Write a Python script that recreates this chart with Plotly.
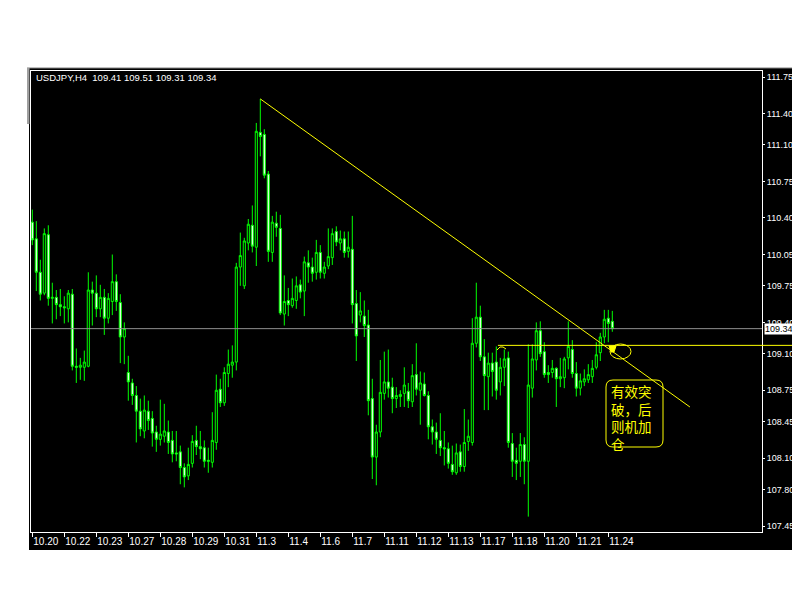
import plotly.graph_objects as go

# ---------------- data (USDJPY H4) ----------------
opens = [110.36,110.20,109.88,109.68,110.24,109.63,109.64,109.57,109.55,109.53,
         109.67,108.98,108.97,108.97,108.98,109.71,109.68,109.53,109.64,109.44,
         109.60,109.79,109.59,109.26,108.92,108.82,108.70,108.55,108.36,108.55,
         108.48,108.35,108.28,108.31,108.35,108.27,108.15,108.16,108.01,107.93,
         108.05,108.27,108.21,108.20,108.08,108.06,108.25,108.76,108.63,108.91,
         108.99,109.02,109.93,109.75,110.16,110.33,110.12,111.22,111.20,110.82,
         110.07,110.35,110.30,109.48,109.61,109.56,109.61,109.76,109.70,109.97,
         109.93,109.88,110.07,109.87,109.94,110.02,110.27,110.16,110.20,110.08,
         110.10,109.58,109.47,109.46,109.375,108.67,108.11,108.35,108.72,108.83,
         108.78,108.67,108.69,108.72,108.74,108.64,108.90,108.75,108.81,108.70,
         108.40,108.35,108.27,108.20,108.19,108.04,107.96,108.16,108.02,108.26,
         108.25,109.20,109.45,109.07,108.88,109.01,109.02,108.83,108.97,109.06,
         108.24,108.08,108.07,108.23,108.07,108.77,109.04,109.32,109.12,108.92,
         108.92,108.96,108.86,108.87,109.06,109.14,108.91,108.77,108.83,108.85,
         108.88,108.97,109.11,109.26,109.44,109.41]
highs = [110.48,110.37,110.00,110.30,110.33,109.78,109.71,109.72,109.65,109.71,
         109.72,109.15,109.06,109.13,109.88,109.79,109.85,109.76,109.72,109.68,
         110.05,109.86,109.67,109.40,109.08,108.86,108.79,108.67,108.70,108.65,
         108.55,108.41,108.66,108.62,108.46,108.36,108.36,108.22,108.05,108.20,
         108.32,108.41,108.36,108.27,108.20,108.54,108.90,108.86,108.97,109.14,
         109.18,109.97,110.26,110.21,110.39,110.52,111.31,111.54,111.25,110.85,
         110.42,110.46,110.43,109.85,109.73,109.82,109.84,109.81,110.03,110.09,
         110.02,110.19,110.14,109.98,110.30,110.30,110.32,110.28,110.27,110.27,
         110.42,109.71,109.69,109.61,109.52,108.86,108.42,109.04,109.12,109.14,
         108.87,108.78,108.75,108.97,108.82,109.00,109.20,108.93,108.92,108.74,
         108.47,108.44,108.53,108.36,108.25,108.22,108.24,108.23,108.57,108.47,
         109.44,109.78,109.56,109.24,109.11,109.11,109.17,109.06,109.14,109.12,
         108.34,108.20,108.34,108.30,109.19,109.19,109.40,109.41,109.21,108.99,
         109.04,108.97,109.06,109.07,109.41,109.23,109.02,108.91,108.95,109.00,
         109.04,109.21,109.30,109.52,109.52,109.51]
lows = [110.14,109.70,109.61,109.66,109.56,109.39,109.43,109.46,109.39,109.40,
        108.94,108.82,108.85,108.84,108.97,109.37,109.45,109.45,109.28,109.39,
        109.47,109.51,109.01,109.00,108.65,108.61,108.25,108.31,108.29,108.37,
        108.21,108.16,108.22,108.25,108.14,108.06,108.07,107.85,107.82,107.89,
        108.01,108.13,108.09,108.01,107.96,108.01,108.18,108.59,108.60,108.78,
        108.87,108.94,109.75,109.72,110.09,110.07,109.94,110.99,110.78,109.98,
        109.98,110.22,109.47,109.37,109.46,109.54,109.53,109.63,109.46,109.78,
        109.79,109.81,109.82,109.82,109.91,109.95,110.13,110.09,110.02,110.02,
        109.39,109.03,109.40,109.26,108.51,107.90,107.84,108.30,108.66,108.68,
        108.53,108.58,108.59,108.59,108.58,108.59,108.70,108.42,108.69,108.28,
        108.23,108.14,108.12,108.03,108.00,107.94,107.94,107.97,107.97,108.17,
        108.22,109.16,109.03,108.56,108.56,108.69,108.66,108.70,108.79,108.20,
        107.92,107.89,107.92,107.85,107.54,108.68,108.94,109.07,108.87,108.82,
        108.87,108.59,108.78,108.77,108.95,108.87,108.69,108.70,108.79,108.82,
        108.82,108.95,109.03,109.20,109.21,109.31]
closes = [110.19,109.88,109.67,110.25,109.63,109.64,109.57,109.55,109.54,109.68,
          108.98,108.97,108.99,109.02,109.71,109.68,109.53,109.64,109.44,109.63,
          109.79,109.60,109.26,109.34,108.83,108.70,108.55,108.38,108.56,108.46,
          108.34,108.28,108.33,108.36,108.25,108.14,108.14,108.01,107.92,108.04,
          108.26,108.21,108.19,108.07,108.07,108.27,108.75,108.63,108.92,109.00,
          109.02,109.93,110.04,110.18,110.34,110.13,111.23,111.18,110.81,110.08,
          110.36,110.31,109.49,109.60,109.57,109.63,109.75,109.69,109.98,109.93,
          109.87,110.07,109.88,109.93,110.03,110.25,110.17,110.20,110.07,110.12,
          109.57,109.27,109.51,109.37,108.65,108.11,108.35,108.73,108.83,108.77,
          108.67,108.70,108.71,108.80,108.65,108.89,108.76,108.82,108.70,108.40,
          108.35,108.28,108.20,108.19,108.05,107.97,108.15,108.02,108.25,108.31,
          109.20,109.45,109.07,108.89,109.01,108.93,108.75,108.97,109.05,108.25,
          108.07,108.05,108.23,108.07,108.80,109.05,109.32,109.10,108.90,108.90,
          108.96,108.86,108.88,109.05,109.17,108.91,108.77,108.84,108.86,108.90,
          108.96,109.09,109.26,109.43,109.39,109.34]

date_labels = ["10.20","10.22","10.23","10.27","10.28","10.29","10.31","11.3",
               "11.4","11.6","11.7","11.11","11.12","11.13","11.17","11.18",
               "11.20","11.21","11.24"]
bars_per_label = 8
price_ticks = [111.75,111.40,111.10,110.75,110.40,110.05,109.75,109.40,109.10,
               108.75,108.45,108.10,107.80,107.45]

symbol = "USDJPY,H4"
last_price = 109.34
hline_price = 109.18           # yellow horizontal level
trend_start = (57, 111.54)     # (bar, price) of the trend line
trend_end = (164.4, 108.59)
hline_start_bar = 116.4
note_lines = ["有效突", "破，后", "则机加", "仓"]

# ---------------- geometry ----------------
# the page body has an 8px margin, so the figure sits at (8, 8) in the window
OFF = 8
W, H = 792, 584
ML, MR, MT, MB = 23, 38, 63, 60
PW, PH = W - ML - MR, H - MT - MB
xmin, xmax = -0.325, 182.425
ymin, ymax = 107.3926, 111.8075

def px(x):  # window pixel x -> paper
    return (x - OFF - ML) / PW
def py(y):  # window pixel y -> paper
    return (H - MB - (y - OFF)) / PH
def bar_paper(b):
    return (b - xmin) / (xmax - xmin)

x = list(range(len(opens)))
tickvals = [i * bars_per_label for i in range(len(date_labels))]

GREEN = "#00ff00"
YEL = "#ffff00"

fig = go.Figure(go.Candlestick(
    x=x, open=opens, high=highs, low=lows, close=closes,
    increasing=dict(line=dict(color=GREEN, width=1), fillcolor="black"),
    decreasing=dict(line=dict(color=GREEN, width=1), fillcolor="white"),
    whiskerwidth=0, hoverinfo="skip", showlegend=False))

shapes = []
# black terminal background
shapes.append(dict(type="rect", xref="paper", yref="paper", layer="below",
                   x0=px(29), x1=px(800), y0=py(550), y1=py(68),
                   fillcolor="black", line=dict(width=0)))
# gray top edge and small left strip
shapes.append(dict(type="line", xref="paper", yref="paper",
                   x0=px(27), x1=px(800), y0=py(68), y1=py(68),
                   line=dict(color="#808080", width=1)))
shapes.append(dict(type="rect", xref="paper", yref="paper",
                   x0=px(27), x1=px(29.5), y0=py(124), y1=py(68),
                   fillcolor="#a0a0a0", line=dict(width=0)))
# current price line
shapes.append(dict(type="line", xref="paper", yref="y", x0=0, x1=1,
                   y0=last_price, y1=last_price,
                   line=dict(color="#909090", width=1)))
# yellow horizontal level
shapes.append(dict(type="line", xref="paper", yref="y",
                   x0=bar_paper(hline_start_bar), x1=px(795),
                   y0=hline_price, y1=hline_price,
                   line=dict(color=YEL, width=1)))
# trend line
shapes.append(dict(type="line", xref="x", yref="y",
                   x0=trend_start[0], y0=trend_start[1],
                   x1=trend_end[0], y1=trend_end[1],
                   line=dict(color=YEL, width=1)))
# small hook at the start of the level line
shapes.append(dict(type="path", xref="paper", yref="paper",
                   path=f"M{px(497)},{py(350)} L{px(500)},{py(347)} L{px(503)},{py(347)} L{px(506)},{py(349)}",
                   line=dict(color=YEL, width=1)))
# ellipse + filled marker at breakout
shapes.append(dict(type="circle", xref="paper", yref="paper",
                   x0=px(610), x1=px(631), y0=py(359), y1=py(344),
                   line=dict(color=YEL, width=1)))
shapes.append(dict(type="path", xref="paper", yref="paper",
                   path=f"M{px(609)},{py(346)} L{px(616)},{py(346)} L{px(614)},{py(352)} L{px(611)},{py(352)} Z",
                   fillcolor=YEL, line=dict(color=YEL, width=1)))
# rounded callout box
bx0, bx1, by0, by1, r = 606, 663, 380, 447, 7
box = (f"M{px(bx0 + r)},{py(by0)} L{px(bx1 - r)},{py(by0)} "
       f"Q{px(bx1)},{py(by0)} {px(bx1)},{py(by0 + r)} "
       f"L{px(bx1)},{py(by1 - r)} Q{px(bx1)},{py(by1)} {px(bx1 - r)},{py(by1)} "
       f"L{px(bx0 + r)},{py(by1)} Q{px(bx0)},{py(by1)} {px(bx0)},{py(by1 - r)} "
       f"L{px(bx0)},{py(by0 + r)} Q{px(bx0)},{py(by0)} {px(bx0 + r)},{py(by0)} Z")
shapes.append(dict(type="path", xref="paper", yref="paper", path=box,
                   line=dict(color=YEL, width=1)))

annotations = []
ohlc_txt = "  ".join([symbol, " ".join(f"{v:.2f}" for v in
                      (opens[-1], highs[-1], lows[-1], closes[-1]))])
annotations.append(dict(xref="paper", yref="paper", x=px(34), y=py(78),
                        xanchor="left", yanchor="middle", showarrow=False,
                        text=ohlc_txt,
                        font=dict(family="Liberation Sans", size=9.5, color="white")))
annotations.append(dict(xref="paper", yref="y", x=px(764), y=last_price,
                        xanchor="left", yanchor="middle", showarrow=False,
                        text=f"{last_price:.2f}", bgcolor="white", borderpad=0,
                        font=dict(family="Liberation Sans", size=9, color="black")))
annotations.append(dict(xref="paper", yref="paper", x=px(609), y=py(379),
                        xanchor="left", yanchor="top", align="left",
                        showarrow=False, text="<br>".join(note_lines),
                        font=dict(family="Noto Sans CJK SC", size=13.5, color=YEL)))

fig.update_layout(
    width=W, height=H,
    margin=dict(l=ML, r=MR, t=MT, b=MB, pad=0, autoexpand=False),
    paper_bgcolor="white", plot_bgcolor="black",
    shapes=shapes, annotations=annotations,
    boxgap=0.25,
    xaxis=dict(range=[xmin, xmax], rangeslider=dict(visible=False),
               automargin=False, tickangle=0,
               showgrid=False, zeroline=False,
               showline=True, mirror=True, linecolor="white", linewidth=1,
               tickmode="array", tickvals=tickvals, ticktext=date_labels,
               ticks="outside", ticklen=4, tickcolor="white",
               ticklabelposition="outside right",
               tickfont=dict(family="Liberation Sans", size=10, color="white")),
    yaxis=dict(range=[ymin, ymax], side="right", automargin=False,
               showgrid=False, zeroline=False,
               showline=True, mirror=True, linecolor="white", linewidth=1,
               tickmode="array", tickvals=price_ticks,
               ticktext=[f"{v:.2f}" for v in price_ticks],
               ticks="outside", ticklen=2, tickcolor="white",
               tickfont=dict(family="Liberation Sans", size=9, color="white")),
)

fig.write_html("out.html")
